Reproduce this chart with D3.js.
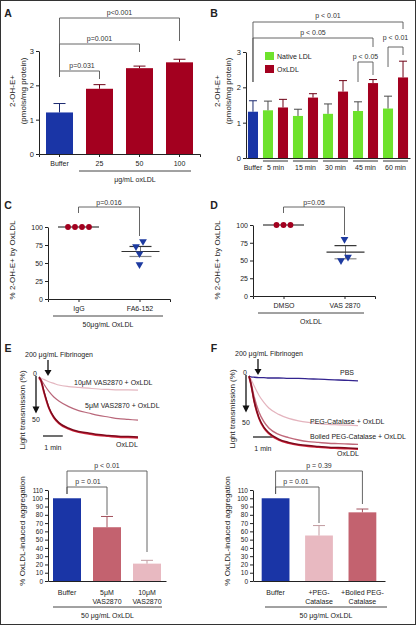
<!DOCTYPE html>
<html><head><meta charset="utf-8">
<script src="https://cdn.jsdelivr.net/npm/d3@7"></script>
<style>
body{margin:0;background:#fff}
svg{display:block}
</style>
</head><body><svg id="c" width="417" height="626"></svg>
<script>
// ---------------- DATA ----------------
// Panel A
const aCats = ["Buffer", "25", "50", "100"];
const aVals = [1.21, 1.90, 2.50, 2.67];
const aErrTop = [1.47, 2.02, 2.56, 2.76];
// Panel B
const bGroups = ["5 min", "15 min", "30 min", "45 min", "60 min"];
const bBuffer = 1.31, bBufferErr = 1.62;
const bNative = [1.35, 1.19, 1.25, 1.33, 1.40];
const bNativeErr = [1.61, 1.38, 1.53, 1.59, 1.75];
const bOx = [1.43, 1.71, 1.88, 2.12, 2.28];
const bOxErr = [1.66, 1.82, 2.19, 2.22, 2.74];
const bLegend = ["Native LDL", "OxLDL"];
const abTicks = [0, 1, 2, 3];
// Panel C / D (scatter, % of OxLDL)
const cCats = ["IgG", "FA6-152"];
const cRed = [100, 100, 100, 100];
const cBlue = [80, 73, 63, 48];
const dCats = ["DMSO", "VAS 2870"];
const dRed = [100, 100, 100];
const dBlue = [80, 55, 50];
const cdTicks = [0, 25, 50, 75, 100];
// Panel E / F aggregation traces (time in min, % light transmission)
const eTime = [0, 0.1, 0.25, 0.5, 0.75, 1, 1.5, 2, 2.5, 3, 3.5, 4, 4.5, 5];
const eOx   = [0, 4, 18, 38, 50, 57, 64, 68, 70, 72, 73, 74, 74.5, 75];
const eV5   = [0, 3, 9, 18, 25, 30, 37, 42, 45, 48, 50, 52, 53, 54];
const eV10  = [0, 1.5, 3, 6, 8, 10, 12, 13, 14, 15, 15.5, 16, 16, 16.5];
const fTime = [0, 0.1, 0.25, 0.5, 0.75, 1, 1.5, 2, 2.5, 3, 3.5, 4, 4.5, 5, 5.5];
const fPBS  = [0, 1, 1.5, 2, 2, 2.5, 2.5, 3, 3, 3.5, 4, 4.5, 5, 5.5, 6];
const fPEG  = [0, 4, 12, 24, 33, 40, 48, 53, 56, 58, 59.5, 60.5, 61, 61.5, 62];
const fBoil = [0, 8, 25, 45, 57, 65, 73, 77, 80, 82, 83, 84, 84.5, 85, 85.5];
const fOx   = [0, 10, 30, 52, 64, 71, 79, 83, 85.5, 87, 88, 89, 89.5, 90, 90.5];
// Panel E / F bars
const eLabels = [["Buffer"], ["5μM", "VAS2870"], ["10μM", "VAS2870"]];
const eVals = [100, 65, 21];
const eErrTop = [null, 78, 25];
const fLabels = [["Buffer"], ["+PEG-", "Catalase"], ["+Boiled PEG-", "Catalase"]];
const fVals = [100, 55, 83];
const fErrTop = [null, 67, 87];
const efTicks = d3.range(0, 111, 10);

// ---------------- STYLE ----------------
const FONT = '"Liberation Sans", Arial, Helvetica, sans-serif';
const BLUE = "#1a35a6", RED = "#a3001f", GREEN = "#6ee22c";
const PINK_M = "#c3626f", PINK_L = "#e8b9c1";
const INK = "#222";

const svg = d3.select("#c").attr("font-family", FONT);
svg.append("rect").attr("width", 417).attr("height", 626).attr("fill", "#fff");
svg.append("rect").attr("x", 0.5).attr("y", 0.5).attr("width", 415).attr("height", 624)
  .attr("fill", "none").attr("stroke", "#333").attr("stroke-width", 1);

function txt(x, y, s, o = {}) {
  return svg.append("text").attr("x", x).attr("y", y).text(s)
    .attr("font-size", o.size || 7).attr("text-anchor", o.anchor || "middle")
    .attr("dominant-baseline", "central")
    .attr("font-weight", o.weight || null)
    .attr("fill", o.fill || INK)
    .attr("transform", o.rotate ? `rotate(-90,${x},${y})` : null);
}
function line(x1, y1, x2, y2, c = INK, w = 1) {
  return svg.append("line").attr("x1", x1).attr("y1", y1).attr("x2", x2).attr("y2", y2)
    .attr("stroke", c).attr("stroke-width", w);
}
function yAxis(x, scale, ticks, size) {
  const g = svg.append("g").attr("transform", `translate(${x},0)`)
    .call(d3.axisLeft(scale).tickValues(ticks).tickFormat(d3.format("d"))
      .tickSize(3).tickSizeOuter(0).tickPadding(2));
  g.attr("font-family", FONT);
  g.selectAll("text").attr("font-size", size).attr("fill", INK);
  g.selectAll("line,path").attr("stroke", INK);
  return g;
}
function xAxis(y, scale, opts = {}) {
  const ax = d3.axisBottom(scale).tickSizeOuter(0).tickSize(opts.tick || 0).tickPadding(opts.pad || 4);
  if (opts.noTicks) ax.tickValues([]);
  const g = svg.append("g").attr("transform", `translate(0,${y})`).call(ax);
  g.attr("font-family", FONT);
  g.selectAll("text").attr("font-size", opts.size || 7).attr("fill", INK);
  g.selectAll("line,path").attr("stroke", INK);
  return g;
}
function bracket(x1, x2, y, y1, y2, label, ty, tx) {
  svg.append("path").attr("d", `M${x1},${y1}V${y}H${x2}V${y2}`)
    .attr("fill", "none").attr("stroke", "#555").attr("stroke-width", 0.9);
  txt(tx != null ? tx : (x1 + x2) / 2, ty != null ? ty : y - 6, label, { size: 7, fill: "#333" });
}
function errBar(x, y0, y1, cap, color) {
  line(x, y0, x, y1, color, 1);
  line(x - cap / 2, y1, x + cap / 2, y1, color, 1);
}
function swarmOffsets(vals, ys, step, gap) {
  const idx = vals.map((v, i) => i).sort((a, b) => vals[a] - vals[b]);
  const off = new Array(vals.length).fill(0);
  let cluster = [idx[0]];
  const flush = () => {
    const n = cluster.length;
    cluster.forEach((k, j) => off[k] = (j - (n - 1) / 2) * step);
  };
  for (let j = 1; j < idx.length; j++) {
    if (Math.abs(ys(vals[idx[j]]) - ys(vals[idx[j - 1]])) < gap) cluster.push(idx[j]);
    else { flush(); cluster = [idx[j]]; }
  }
  flush();
  return off;
}

// ---------------- PANEL A ----------------
txt(8, 13, "A", { size: 10.5, weight: "bold" });
const xA = d3.scaleBand().domain(aCats).range([39, 200]).paddingInner(0.325).paddingOuter(0.175);
const yA = d3.scaleLinear().domain([0, 3]).range([154, 51]);
aCats.forEach((c, i) => {
  svg.append("rect").attr("x", xA(c)).attr("y", yA(aVals[i])).attr("width", xA.bandwidth())
    .attr("height", yA(0) - yA(aVals[i])).attr("fill", i === 0 ? BLUE : RED);
  errBar(xA(c) + xA.bandwidth() / 2, yA(aVals[i]), yA(aErrTop[i]), 12, i === 0 ? "#1c2a70" : "#6e0015");
});
yAxis(39, yA, abTicks, 7.5);
xAxis(154, xA, { tick: 3, pad: 4, size: 7 });
line(79, 171, 191, 171, "#444", 1);
txt(135, 179, "μg/mL oxLDL", { size: 7 });
txt(12, 91, "2-OH-E+", { size: 8, rotate: true });
txt(23, 91, "(pmols/mg protein)", { size: 8, rotate: true });
const cxA = c => xA(c) + xA.bandwidth() / 2;
bracket(cxA("Buffer"), cxA("100"), 18, 77, 41, "p<0.001", 12);
bracket(cxA("Buffer"), cxA("50"), 44, 77, 52, "p=0.001", 38);
bracket(cxA("Buffer"), cxA("25"), 71, 77, 79, "p=0.031", 65, 82);

// ---------------- PANEL B ----------------
txt(214, 13, "B", { size: 10.5, weight: "bold" });
const bBars = [{ k: "Buffer", v: bBuffer, e: bBufferErr, c: BLUE }];
bGroups.forEach((g, i) => {
  bBars.push({ k: g + "|n", v: bNative[i], e: bNativeErr[i], c: GREEN });
  bBars.push({ k: g + "|o", v: bOx[i], e: bOxErr[i], c: RED });
});
const xB = d3.scaleBand().domain(bBars.map(d => d.k)).range([246, 410]).paddingInner(0.33).paddingOuter(0.13);
const yB = d3.scaleLinear().domain([0, 3]).range([158, 52]);
bBars.forEach(d => {
  svg.append("rect").attr("x", xB(d.k)).attr("y", yB(d.v)).attr("width", xB.bandwidth())
    .attr("height", yB(0) - yB(d.v)).attr("fill", d.c);
  const ec = d.c === GREEN ? "#4a4a4a" : (d.c === BLUE ? "#1c2a70" : "#6e0015");
  errBar(xB(d.k) + xB.bandwidth() / 2, yB(d.v), yB(d.e), 8, ec);
});
yAxis(246, yB, abTicks, 7.5);
xAxis(158, xB, { noTicks: true });
const cxB = k => xB(k) + xB.bandwidth() / 2;
txt(cxB("Buffer"), 167, "Buffer", { size: 7 });
bGroups.forEach(g => {
  const x0 = xB(g + "|n"), x1 = xB(g + "|o") + xB.bandwidth();
  line(x0, 161, x1, 161, "#333", 1);
  txt((x0 + x1) / 2, 167, g, { size: 7 });
});
txt(217, 91, "2-OH-E+", { size: 8, rotate: true });
txt(228, 91, "(pmols/mg protein)", { size: 8, rotate: true });
// legend
[GREEN, RED].forEach((c, i) => {
  svg.append("rect").attr("x", 265).attr("y", 52 + i * 13).attr("width", 9).attr("height", 8).attr("fill", c);
  txt(277, 56 + i * 13, bLegend[i], { size: 7, anchor: "start" });
});
bracket(cxB("Buffer"), cxB("60 min|o"), 22, 82, 29, "p < 0.01", 15);
bracket(cxB("Buffer"), cxB("45 min|o"), 38, 82, 47, "p < 0.05", 32);
bracket(cxB("45 min|n"), cxB("45 min|o"), 62, 82, 75, "p < 0.05", 56);
bracket(cxB("60 min|n"), cxB("60 min|o"), 47, 67, 55, "p < 0.01", 37);

// ---------------- PANEL C / D ----------------
function scatterPanel(opt) {
  txt(opt.lx, 205, opt.letter, { size: 10.5, weight: "bold" });
  const x = d3.scalePoint().domain(opt.cats).range([opt.ax, opt.ax + 122]).padding(0.5);
  const y = d3.scaleLinear().domain([0, 100]).range([opt.y0, opt.y100]);
  yAxis(opt.ax, y, cdTicks, 7);
  xAxis(opt.y0, x, { tick: 3, pad: 4, size: 7 });
  // red group
  const xr = x(opt.cats[0]);
  line(xr - 20.5, y(d3.mean(opt.red)), xr + 20.5, y(d3.mean(opt.red)), "#111", 1.2);
  const offR = swarmOffsets(opt.red, y, 7, 6);
  opt.red.forEach((v, i) => svg.append("circle").attr("cx", xr + offR[i]).attr("cy", y(v)).attr("r", 2.9).attr("fill", RED));
  // blue group
  const xb = x(opt.cats[1]) + 1;
  const m = d3.mean(opt.blue), se = d3.deviation(opt.blue) / Math.sqrt(opt.blue.length);
  line(xb, y(m - se), xb, y(m + se), "#777", 1);
  line(xb - 11, y(m + se), xb + 11, y(m + se), "#333", 1.2);
  line(xb - 11, y(m - se), xb + 11, y(m - se), "#888", 1.2);
  line(xb - 19, y(m), xb + 19, y(m), "#333", 1.2);
  const offB = swarmOffsets(opt.blue, y, 7, 6);
  opt.blue.forEach((v, i) => svg.append("path")
    .attr("d", d3.symbol(d3.symbolTriangle, 26)())
    .attr("transform", `translate(${x(opt.cats[1]) + offB[i]},${y(v)}) rotate(180)`)
    .attr("fill", "#1d3aa0"));
  txt(opt.ax - 36, 260, "% 2-OH-E+ by OxLDL", { size: 8, rotate: true });
  const c0 = x(opt.cats[0]), c1 = x(opt.cats[1]);
  bracket(c0, c1, 207, 213, opt.bracketEnd, opt.p, 202);
  line(opt.ulx0, opt.y0 + 17, opt.ulx1, opt.y0 + 17, "#444", 1);
  txt((opt.ulx0 + opt.ulx1) / 2, opt.y0 + 25.5, opt.note, { size: 7 });
}
scatterPanel({ letter: "C", lx: 8, cats: cCats, ax: 48, y0: 299, y100: 227, red: cRed, blue: cBlue,
  bracketEnd: 236, p: "p=0.016", ulx0: 53, ulx1: 163, note: "50μg/mL OxLDL" });
scatterPanel({ letter: "D", lx: 214, cats: dCats, ax: 253, y0: 296, y100: 225, red: dRed, blue: dBlue,
  bracketEnd: 235, p: "p=0.05", ulx0: 258, ulx1: 364, note: "OxLDL" });

// ---------------- PANEL E / F traces ----------------
function tracePanel(opt) {
  txt(opt.lx, 348, opt.letter, { size: 10.5, weight: "bold" });
  const x = d3.scaleLinear().domain([0, d3.max(opt.time)]).range([opt.x0, opt.x1]);
  const y = d3.scaleLinear().domain([0, 100]).range([opt.y0, opt.y0 + 80]);
  txt(opt.x0 - 14, opt.y0 - 23, "200 μg/mL Fibrinogen", { size: 7, anchor: "start" });
  // fibrinogen arrow
  line(opt.x0 + 9, opt.y0 - 17, opt.x0 + 9, opt.y0 - 6, "#111", 1.3);
  svg.append("path").attr("d", `M${opt.x0 + 5.5},${opt.y0 - 7}L${opt.x0 + 12.5},${opt.y0 - 7}L${opt.x0 + 9},${opt.y0 - 1}Z`).attr("fill", "#111");
  // y arrow
  const ax = opt.x0 - 3;
  txt(ax - 1, opt.y0 - 3.5, "0", { size: 7 });
  line(ax, opt.y0 - 1, ax, y(39), "#111", 1.3);
  svg.append("path").attr("d", `M${ax - 3.5},${y(37)}L${ax + 3.5},${y(37)}L${ax},${y(45.5)}Z`).attr("fill", "#111");
  txt(ax, opt.y50lab, "50", { size: 7 });
  txt(opt.x0 - 17, opt.y0 + 33, "Light transmission (%)", { size: 8, rotate: true });
  // scale bar 1 min
  const sb0 = x(0.2);
  line(sb0, opt.sbY, sb0 + (x(1) - x(0)), opt.sbY, "#111", 1.2);
  txt(sb0 + (x(1) - x(0)) / 2, opt.sbY + 11, "1 min", { size: 7 });
  const gen = d3.line().x((d, i) => x(opt.time[i])).y(d => y(d)).curve(d3.curveMonotoneX);
  opt.curves.forEach(c => {
    svg.append("path").attr("d", gen(c.v)).attr("fill", "none").attr("stroke", c.color)
      .attr("stroke-width", c.w).attr("transform", c.dy ? `translate(0,${c.dy})` : null);
  });
  opt.labels.forEach(l => txt(l[0], l[1], l[2], { size: 7, anchor: l[3] || "start" }));
}
tracePanel({ letter: "E", lx: 8, time: eTime, x0: 39, x1: 138, y0: 377, y50lab: 419, sbY: 436,
  curves: [
    { v: eV10, color: "#e4b7c0", w: 1.2 },
    { v: eV5, color: "#b9677a", w: 1.2 },
    { v: eOx, color: "#d4283e", w: 1.8, dy: 0.8 },
    { v: eOx, color: "#7e0a1d", w: 1.5 }
  ],
  labels: [[74, 382, "10μM VAS2870 + OxLDL"], [85, 405, "5μM VAS2870 + OxLDL"], [116, 444, "OxLDL"]] });
tracePanel({ letter: "F", lx: 214, time: fTime, x0: 249, x1: 358, y0: 376, y50lab: 422, sbY: 437,
  curves: [
    { v: fPBS, color: "#33248f", w: 1.3 },
    { v: fPEG, color: "#e4b4be", w: 1.2 },
    { v: fBoil, color: "#c0687a", w: 1.4 },
    { v: fOx, color: "#d4283e", w: 1.6, dy: 0.8 },
    { v: fOx, color: "#7e0a1d", w: 1.5 }
  ],
  labels: [[347, 372, "PBS", "middle"], [310, 421, "PEG-Catalase + OxLDL"], [310, 436, "Boiled PEG-Catalase + OxLDL"], [348, 453, "OxLDL", "middle"]] });

// ---------------- PANEL E / F bars ----------------
function aggBars(opt) {
  const x = d3.scaleBand().domain(opt.labels.map(l => l.join(" "))).range([opt.ax, opt.ax1])
    .paddingInner(opt.pi).paddingOuter(opt.po);
  const y = d3.scaleLinear().domain([0, 110]).range([581, 490]);
  const keys = x.domain();
  keys.forEach((k, i) => {
    svg.append("rect").attr("x", x(k)).attr("y", y(opt.vals[i])).attr("width", x.bandwidth())
      .attr("height", y(0) - y(opt.vals[i])).attr("fill", opt.colors[i]);
    if (opt.err[i] != null) errBar(x(k) + x.bandwidth() / 2, y(opt.vals[i]), y(opt.err[i]), 12, d3.color(opt.colors[i]).darker(0.5));
    opt.labels[i].forEach((s, j) => txt(x(k) + x.bandwidth() / 2, 592 + j * 9, s, { size: 7 }));
  });
  yAxis(opt.ax, y, efTicks, 6.5);
  xAxis(581, x, { noTicks: true });
  line(opt.ul0, 607, opt.ul1, 607, "#444", 1);
  txt((opt.ul0 + opt.ul1) / 2, 615, "50 μg/mL OxLDL", { size: 7 });
  txt(opt.ax - 26, 531, "% OxLDL-induced aggregation", { size: 8, rotate: true });
  const cx = i => x(keys[i]) + x.bandwidth() / 2;
  opt.brackets.forEach(b => bracket(cx(b[0]), cx(b[1]), b[2], b[3], b[4], b[5], b[6], b[7]));
}
aggBars({ labels: eLabels, vals: eVals, err: eErrTop, colors: [BLUE, PINK_M, PINK_L],
  ax: 48, ax1: 166, pi: 0.3, po: 0.125, ul0: 53, ul1: 162,
  brackets: [[0, 2, 471, 494, 552, "p < 0.01", 465], [0, 1, 487, 494, 515, "p = 0.01", 481, 88]] });
aggBars({ labels: fLabels, vals: fVals, err: fErrTop, colors: [BLUE, PINK_L, PINK_M],
  ax: 253, ax1: 385, pi: 0.36, po: 0.2, ul0: 265, ul1: 387,
  brackets: [[0, 2, 471, 494, 504, "p = 0.39", 465], [0, 1, 487, 494, 523, "p = 0.01", 481, 296]] });
</script>
</body></html>
